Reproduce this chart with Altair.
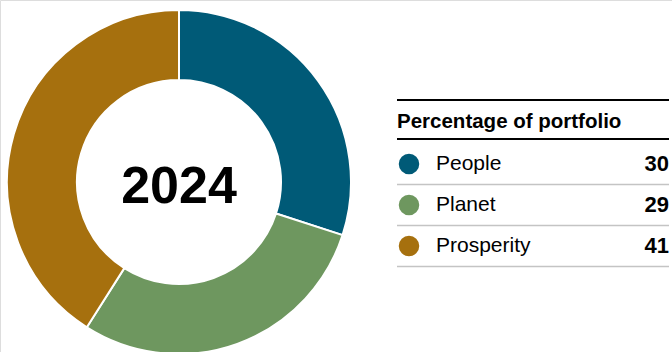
import altair as alt
import pandas as pd

categories = ["People", "Planet", "Prosperity"]
values = [30, 29, 41]
colors = ["#005a77", "#6e975f", "#a6700e"]
year_label = "2024"
table_title = "Percentage of portfolio"

df = pd.DataFrame({
    "category": categories,
    "value": values,
    "order": list(range(len(categories))),
    "row": [i + 0.5 for i in range(len(categories))],
    "rule": [i + 1 for i in range(len(categories))],
})

color_scale = alt.Scale(domain=categories, range=colors)
row_scale = alt.Scale(domain=[0, 3], range=[143.5, 266.5])
FONT = "Liberation Sans"

base = alt.Chart(df)

donut = base.mark_arc(radius=172, innerRadius=102, stroke="white", strokeWidth=2).encode(
    theta=alt.Theta("value:Q", stack=True),
    color=alt.Color("category:N", scale=color_scale, legend=None),
    order=alt.Order("order:Q"),
    x=alt.value(179),
    y=alt.value(182),
)

center_text = alt.Chart(pd.DataFrame({"t": [year_label]})).mark_text(
    font=FONT, fontSize=52, fontWeight="bold", color="black", align="center", baseline="middle"
).encode(text="t:N", x=alt.value(179), y=alt.value(187))

top_rules = alt.Chart(pd.DataFrame({"y": [100, 139]})).mark_rule(color="black", strokeWidth=2).encode(
    y=alt.Y("y:Q", scale=None), x=alt.value(397), x2=alt.value(669)
)

header = alt.Chart(pd.DataFrame({"t": [table_title]})).mark_text(
    font=FONT, fontSize=20.5, fontWeight="bold", color="black", align="left", baseline="middle"
).encode(text="t:N", x=alt.value(397), y=alt.value(122))

row_rules = base.mark_rule(color="#c4c4c4", strokeWidth=1.5).encode(
    y=alt.Y("rule:Q", scale=row_scale, axis=None), x=alt.value(397), x2=alt.value(669)
)

dots = base.mark_point(filled=True, size=420, opacity=1, shape="circle").encode(
    y=alt.Y("row:Q", scale=row_scale, axis=None),
    x=alt.value(409),
    color=alt.Color("category:N", scale=color_scale, legend=None),
)

labels = base.mark_text(font=FONT, fontSize=21, color="black", align="left", baseline="middle").encode(
    y=alt.Y("row:Q", scale=row_scale, axis=None), x=alt.value(436), text="category:N"
)

nums = base.mark_text(font=FONT, fontSize=22, fontWeight="bold", color="black", align="right", baseline="middle").encode(
    y=alt.Y("row:Q", scale=row_scale, axis=None), x=alt.value(669), text="value:Q"
)

chart = alt.layer(donut, center_text, top_rules, header, row_rules, dots, labels, nums).properties(
    width=672, height=352, padding=0, autosize=alt.AutoSizeParams(type="none")
).configure_view(stroke=None).configure(background="white")

chart.save("out.html", embed_options={"renderer": "svg", "actions": False})
